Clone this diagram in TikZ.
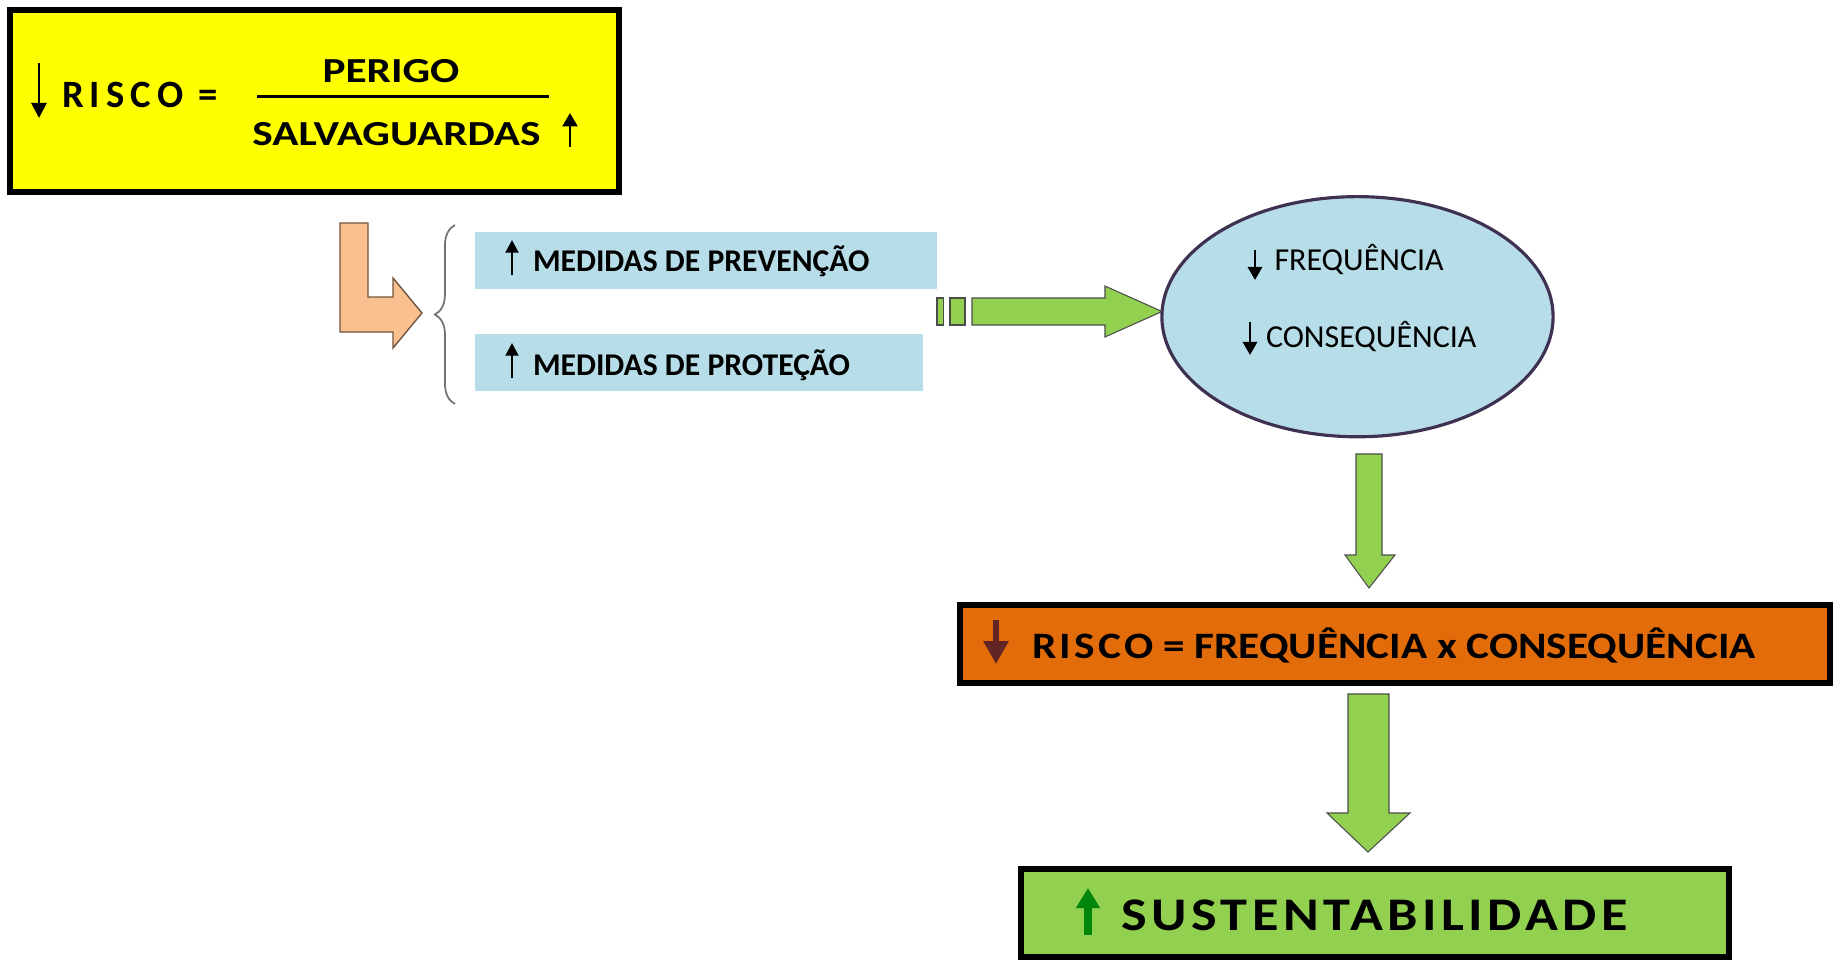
\documentclass[tikz,border=0pt]{standalone}
\usepackage{fontspec}
\setmainfont{Carlito}
\newfontfamily\largofont[FakeStretch=1.23]{Carlito}
\newfontfamily\medfont[FakeStretch=1.16]{Carlito}
\usetikzlibrary{arrows.meta,shapes.geometric,decorations.pathreplacing}

\definecolor{amarelo}{HTML}{FFFF00}
\definecolor{laranja}{HTML}{E36C0A}
\definecolor{verde}{HTML}{92D050}
\definecolor{azul}{HTML}{B7DEE8}
\definecolor{pele}{HTML}{FAC090}
\definecolor{roxo}{HTML}{3F3151}
\definecolor{vinho}{HTML}{632523}
\definecolor{verdeesc}{HTML}{00860A}

\tikzset{
  caixa/.style={draw=black, line width=1.7pt, inner sep=0pt, outer sep=0pt},
  faixa/.style={fill=azul, inner sep=0pt, outer sep=0pt},
  texto/.style={inner sep=0pt, outer sep=0pt, anchor=base west},
  seta/.style={line width=0.8pt, -{Triangle[length=4pt, width=4pt]}},
  setabloco/.style={fill=verde, draw=black!70, line width=0.3pt, line join=miter},
}

\begin{document}
\begin{tikzpicture}[x=0.01cm, y=-0.01cm]
		\useasboundingbox (0,0) rectangle (1841,960);
		
		%%%%% FORMULA %%%%%
		
		\node[caixa, fill=amarelo, minimum width=6.09cm, minimum height=1.82cm] (formula) at (314.5,101) {};
		\node[texto] (risco) at (62,107) {\fontsize{11pt}{13pt}\selectfont\bfseries\addfontfeature{LetterSpace=16}RISCO =};
		\node[inner sep=0pt, anchor=base] (perigo) at (391,82) {\largofont\fontsize{10pt}{12pt}\selectfont\bfseries PERIGO};
		\node[inner sep=0pt, anchor=base] (salva) at (396.5,145) {\largofont\fontsize{10pt}{12pt}\selectfont\bfseries SALVAGUARDAS};
		\draw[line width=0.85pt] (257,96) -- (549,96);
		\draw[seta, -{Triangle[length=4.3pt, width=4.3pt]}] (39,63) -- (39,118);
		\draw[seta, -{Triangle[length=3.8pt, width=4.2pt]}] (570,147) -- (570,113);
		
		%%%%% MEDIDAS %%%%%
		
		\draw[fill=pele, draw=pele!45!black, line width=0.4pt] (340,223) -- (368,223) -- (368,297) -- (393,297) -- (393,278) -- (422,313) -- (393,348) -- (393,332) -- (340,332) -- cycle;
		\draw[decorate, decoration={brace, amplitude=5.7pt}, black!55, line width=0.5pt] (455,404) -- (455,225);
		
		\node[faixa, minimum width=4.62cm, minimum height=0.57cm] (prevencao) at (706,260.5) {};
		\node[faixa, minimum width=4.48cm, minimum height=0.57cm] (protecao) at (699,362.5) {};
		\node[texto] (prevtxt) at (533,271.7) {\fontsize{9pt}{11pt}\selectfont\bfseries MEDIDAS DE PREVENÇÃO};
		\node[texto] (prottxt) at (533,375) {\fontsize{9pt}{11pt}\selectfont\bfseries MEDIDAS DE PROTEÇÃO};
		\draw[seta, -{Triangle[length=3.6pt, width=3.6pt]}] (512,275) -- (512,240);
		\draw[seta, -{Triangle[length=3.6pt, width=3.6pt]}] (512,378) -- (512,343);
		
		%%%%% ELIPSE %%%%%
		
		\node[ellipse, draw=roxo, fill=azul, line width=0.9pt, minimum width=3.91cm, minimum height=2.40cm, inner sep=0pt, outer sep=0pt] (elipse) at (1357.5,316.7) {};
		\node[texto] (freq) at (1274.5,270) {\fontsize{9.1pt}{11pt}\selectfont FREQUÊNCIA};
		\node[texto] (conseq) at (1266,347.7) {\fontsize{9.1pt}{11pt}\selectfont CONSEQUÊNCIA};
		\draw[seta, -{Triangle[length=3.7pt, width=4pt]}] (1255,250) -- (1255,280);
		\draw[seta, -{Triangle[length=3.7pt, width=4pt]}] (1250,322) -- (1250,355);
		
		\draw[setabloco] (937,298) rectangle (943.5,325);
		\draw[setabloco] (950,298) rectangle (965,325);
		\draw[setabloco] (972,298) -- (1105,298) -- (1105,286) -- (1162,311.5) -- (1105,337) -- (1105,325) -- (972,325) -- cycle;
		
		%%%%% RESULTADO %%%%%
		
		\draw[setabloco] (1356,454) -- (1382,454) -- (1382,555) -- (1395,555) -- (1369,588) -- (1345,555) -- (1356,555) -- cycle;
		
		\node[caixa, fill=laranja, minimum width=8.70cm, minimum height=0.78cm] (resultado) at (1395,644) {};
		\node[texto] (restxt) at (1032,658) {\medfont\fontsize{10.6pt}{12pt}\selectfont\bfseries{\addfontfeature{LetterSpace=9}RISCO} = FREQUÊNCIA x CONSEQUÊNCIA};
		\draw[vinho, line width=1.8pt, -{Triangle[length=6.5pt, width=6.8pt]}] (996,620) -- (996,664);
		
		\draw[setabloco] (1348,694) -- (1389,694) -- (1389,813) -- (1410,813) -- (1368,852) -- (1327,813) -- (1348,813) -- cycle;
		
		\node[caixa, fill=verde, minimum width=7.08cm, minimum height=0.88cm] (sust) at (1375,913) {};
		\node[texto] (susttxt) at (1121,930.7) {\medfont\fontsize{13.3pt}{15pt}\selectfont\bfseries\addfontfeature{LetterSpace=9.6}SUSTENTABILIDADE};
		\draw[verdeesc, line width=2.3pt, -{Triangle[length=5.7pt, width=6.5pt]}] (1088,935) -- (1088,888);
		
		%%%%% END %%%%%
\end{tikzpicture}
\end{document}
